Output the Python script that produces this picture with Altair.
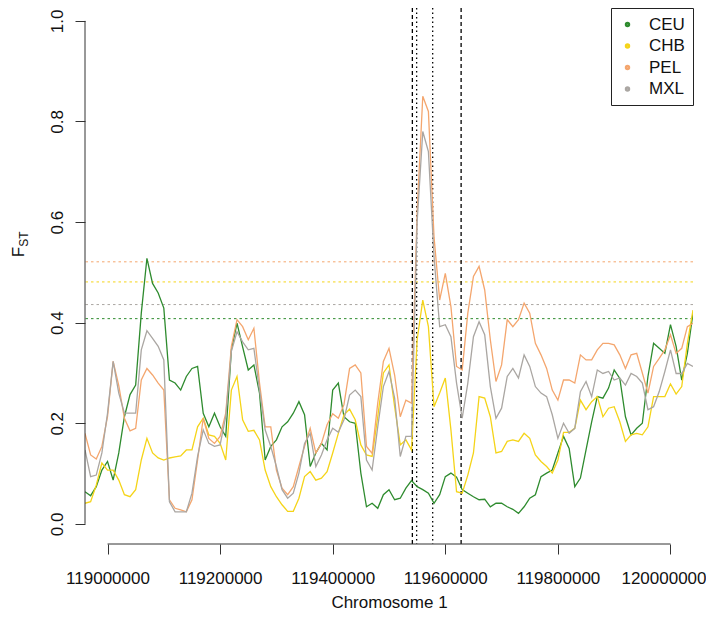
import altair as alt
import pandas as pd

# sampling grid of window positions on chromosome 1 (10 kb steps)
positions = list(range(118960000, 120040001, 10000))

ceu = [0.064, 0.056, 0.074, 0.107, 0.124, 0.087, 0.141, 0.213, 0.257, 0.276,
       0.419, 0.528, 0.478, 0.459, 0.429, 0.286, 0.280, 0.266, 0.293, 0.309,
       0.313, 0.220, 0.193, 0.220, 0.193, 0.174, 0.346, 0.399, 0.352, 0.306,
       0.316, 0.260, 0.127, 0.154, 0.167, 0.193, 0.203, 0.220, 0.243, 0.217,
       0.114, 0.141,
       0.160, 0.147, 0.266, 0.280, 0.213, 0.203, 0.200, 0.101, 0.034, 0.041,
       0.031, 0.058, 0.068, 0.048, 0.051, 0.071, 0.086, 0.074, 0.068, 0.061,
       0.041, 0.058, 0.094, 0.101, 0.093, 0.068, 0.061, 0.054, 0.048, 0.049,
       0.034, 0.041,
       0.041, 0.034, 0.029, 0.021, 0.034, 0.051, 0.058, 0.094, 0.101, 0.107,
       0.141, 0.174, 0.150, 0.074, 0.091, 0.147, 0.203, 0.253, 0.250, 0.270,
       0.306, 0.289, 0.213, 0.177, 0.190, 0.200, 0.293, 0.359, 0.349, 0.339,
       0.396, 0.353, 0.286, 0.339, 0.419]

chb = [0.041, 0.044, 0.077, 0.121, 0.107, 0.107, 0.087, 0.058, 0.054, 0.068,
       0.127, 0.170, 0.141, 0.131, 0.127, 0.131, 0.133, 0.135, 0.147, 0.147,
       0.193, 0.210, 0.177, 0.174, 0.160, 0.127, 0.266, 0.293, 0.207, 0.184,
       0.186, 0.167, 0.107, 0.074, 0.054, 0.038, 0.025, 0.025, 0.051, 0.094,
       0.104, 0.087,
       0.091, 0.104, 0.141, 0.180, 0.217, 0.228, 0.207, 0.157, 0.137, 0.134,
       0.213, 0.300, 0.316, 0.233, 0.157, 0.167, 0.147, 0.366, 0.445, 0.392,
       0.233, 0.260, 0.290, 0.187, 0.064, 0.061, 0.097, 0.141, 0.253, 0.250,
       0.213, 0.141,
       0.144, 0.164, 0.167, 0.164, 0.180, 0.170, 0.137, 0.124, 0.114, 0.101,
       0.127, 0.182, 0.182, 0.190, 0.246, 0.227, 0.243, 0.253, 0.213, 0.230,
       0.233, 0.203, 0.164, 0.177, 0.180, 0.177, 0.193, 0.253, 0.253, 0.253,
       0.278, 0.258, 0.273, 0.359, 0.425]

pel = [0.180, 0.137, 0.129, 0.154, 0.213, 0.323, 0.275, 0.210, 0.185, 0.190,
       0.286, 0.309, 0.296, 0.280, 0.266, 0.048, 0.031, 0.028, 0.024, 0.048,
       0.127, 0.210, 0.170, 0.160, 0.174, 0.220, 0.353, 0.406, 0.392, 0.366,
       0.389, 0.280, 0.193, 0.193, 0.107, 0.071, 0.058, 0.074, 0.114, 0.154,
       0.190, 0.141,
       0.160, 0.197, 0.219, 0.210, 0.237, 0.309, 0.316, 0.300, 0.154, 0.140,
       0.240, 0.323, 0.349, 0.296, 0.213, 0.246, 0.240, 0.620, 0.850, 0.820,
       0.570, 0.445, 0.498, 0.432, 0.313, 0.306, 0.419, 0.492, 0.512, 0.465,
       0.366, 0.283,
       0.316, 0.406, 0.392, 0.406, 0.439, 0.419, 0.359, 0.336, 0.309, 0.266,
       0.246, 0.286, 0.286, 0.280, 0.336, 0.326, 0.326, 0.346, 0.359, 0.359,
       0.356, 0.336, 0.309, 0.336, 0.339, 0.300, 0.260, 0.313, 0.329, 0.346,
       0.376, 0.339, 0.349, 0.392, 0.399]

mxl = [0.147, 0.094, 0.097, 0.141, 0.220, 0.323, 0.260, 0.220, 0.220, 0.220,
       0.346, 0.384, 0.369, 0.353, 0.326, 0.044, 0.024, 0.024, 0.024, 0.061,
       0.134, 0.187, 0.160, 0.154, 0.157, 0.213, 0.343, 0.382, 0.362, 0.346,
       0.349, 0.266, 0.187, 0.154, 0.114, 0.068, 0.051, 0.061, 0.101, 0.160,
       0.180, 0.114,
       0.137, 0.167, 0.190, 0.182, 0.207, 0.256, 0.266, 0.253, 0.127, 0.107,
       0.193, 0.273, 0.303, 0.250, 0.134, 0.174, 0.174, 0.600, 0.780, 0.740,
       0.531, 0.392, 0.396, 0.372, 0.280, 0.210, 0.280, 0.372, 0.402, 0.376,
       0.273, 0.210,
       0.230, 0.293, 0.309, 0.290, 0.336, 0.313, 0.273, 0.260, 0.253, 0.217,
       0.170, 0.200, 0.180, 0.190, 0.263, 0.283, 0.253, 0.306, 0.299, 0.303,
       0.286, 0.290, 0.276, 0.299, 0.293, 0.280, 0.227, 0.233, 0.263, 0.303,
       0.346, 0.299, 0.299, 0.319, 0.313]

populations = ["CEU", "CHB", "PEL", "MXL"]
colors = ["#2e8b2e", "#f5d418", "#f4a66e", "#aaa6a2"]
thresholds = [0.408, 0.481, 0.521, 0.436]

vlines_dashed = [119541500, 119628100]
vlines_dotted = [119549100, 119577600]

x_ticks = [119000000, 119200000, 119400000, 119600000, 119800000, 120000000]
y_ticks = [0.0, 0.2, 0.4, 0.6, 0.8, 1.0]

FONT = "Liberation Sans"

rows = []
for pop, vals in zip(populations, [ceu, chb, pel, mxl]):
    for p, v in zip(positions, vals):
        rows.append({"pos": p, "fst": v, "pop": pop})
df = pd.DataFrame(rows)

thr_df = pd.DataFrame({"pop": populations, "thr": thresholds, "col": colors})
vdash_df = pd.DataFrame({"pos": vlines_dashed})
vdot_df = pd.DataFrame({"pos": vlines_dotted})
yaxis_df = pd.DataFrame({"lo": [y_ticks[0]], "hi": [y_ticks[-1]]})
xaxis_df = pd.DataFrame({"lo": [x_ticks[0]], "hi": [x_ticks[-1]]})

xscale = alt.Scale(domain=[118960000, 120040000], nice=False, zero=False)
yscale = alt.Scale(domain=[-0.04, 1.0256], nice=False, zero=False)

last_tick_shift = {"condition": {"test": f"datum.value == {x_ticks[-1]}", "value": -7}, "value": 0}

lines = alt.Chart(df).mark_line(strokeWidth=1.3, clip=True).encode(
    x=alt.X("pos:Q", scale=xscale, title="Chromosome 1",
            axis=alt.Axis(values=x_ticks, format="d", domain=False, grid=False,
                          tickSize=10, tickColor="#333", tickWidth=1,
                          labelFontSize=17, labelFont=FONT, labelColor="#111",
                          labelPadding=16, labelFlush=False, labelOverlap=False,
                          labelOffset=last_tick_shift,
                          titleFontSize=17, titleFont=FONT, titleFontWeight="normal",
                          titleColor="#111", titleBaseline="alphabetic", titleY=63)),
    y=alt.Y("fst:Q", scale=yscale, title=None,
            axis=alt.Axis(values=y_ticks, format=".1f", domain=False, grid=False,
                          tickSize=10, tickColor="#333", tickWidth=1,
                          labelFontSize=17, labelFont=FONT, labelColor="#111",
                          labelAngle=270, labelAlign="center", labelBaseline="alphabetic",
                          labelPadding=13)),
    color=alt.Color("pop:N", sort=populations,
                    scale=alt.Scale(domain=populations, range=colors),
                    legend=alt.Legend(title=None, orient="top-right", offset=0,
                                      fillColor="white", strokeColor="#222",
                                      padding=8, labelFontSize=17, labelFont=FONT,
                                      labelColor="#111", symbolType="circle",
                                      symbolSize=6, symbolStrokeWidth=3,
                                      labelOffset=13, rowPadding=3.5)),
)

thr = alt.Chart(thr_df).mark_rule(strokeWidth=1, strokeDash=[2.5, 3]).encode(
    y=alt.Y("thr:Q", scale=yscale),
    stroke=alt.Stroke("col:N", scale=None),
)

vdash = alt.Chart(vdash_df).mark_rule(strokeWidth=1.3, strokeDash=[4, 3], color="black").encode(
    x=alt.X("pos:Q", scale=xscale)
)
vdot = alt.Chart(vdot_df).mark_rule(strokeWidth=1.3, strokeDash=[1.5, 3], color="black").encode(
    x=alt.X("pos:Q", scale=xscale)
)

yaxis_line = alt.Chart(yaxis_df).mark_rule(strokeWidth=1, color="#333").encode(
    x=alt.value(0), y=alt.Y("lo:Q", scale=yscale), y2="hi:Q"
)
xaxis_line = alt.Chart(xaxis_df).mark_rule(strokeWidth=1, color="#333").encode(
    y=alt.value(536), x=alt.X("lo:Q", scale=xscale), x2="hi:Q"
)

f_txt = alt.Chart(pd.DataFrame({"t": ["F"]})).mark_text(
    angle=270, fontSize=17, font=FONT, align="center", baseline="alphabetic", color="#111"
).encode(text="t:N", x=alt.value(-61), y=alt.value(244))
st_txt = alt.Chart(pd.DataFrame({"t": ["ST"]})).mark_text(
    angle=270, fontSize=12, font=FONT, align="center", baseline="alphabetic", color="#111"
).encode(text="t:N", x=alt.value(-57), y=alt.value(231))

chart = alt.layer(
    thr, vdash, vdot, lines, yaxis_line, xaxis_line, f_txt, st_txt
).properties(
    width=608, height=536,
    padding={"left": 77, "top": 0, "right": 13, "bottom": 69},
    autosize=alt.AutoSizeParams(type="none"),
).configure_view(stroke=None)

chart.save("out.html", embed_options={"renderer": "svg", "actions": False})
